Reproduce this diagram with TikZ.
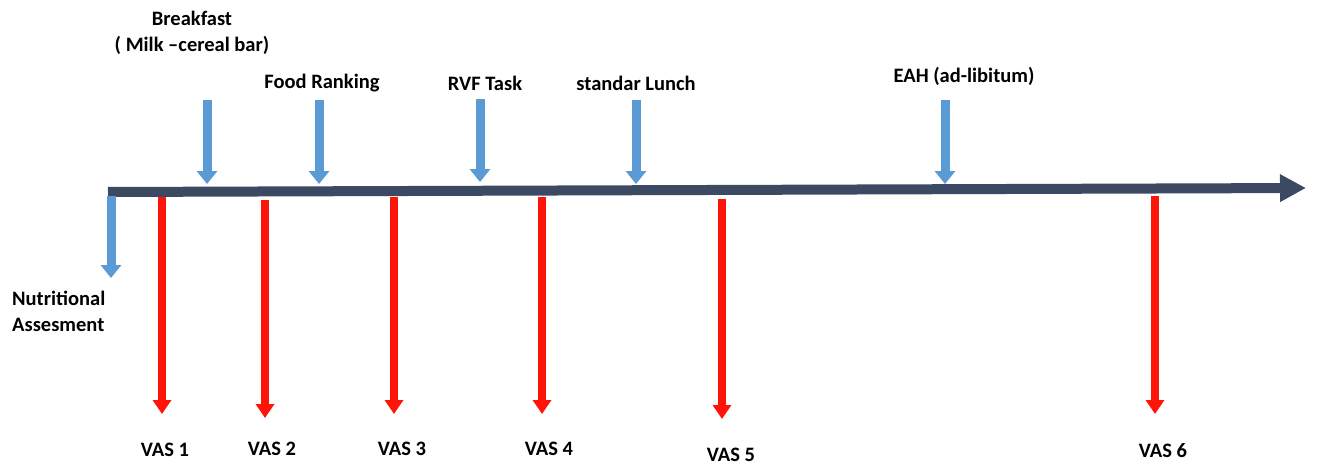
\documentclass[tikz,border=0pt]{standalone}
\usepackage{fontspec}
\setmainfont{Carlito}
\usetikzlibrary{arrows.meta, positioning}
\definecolor{timeline}{RGB}{59,73,99}
\definecolor{stepblue}{RGB}{91,155,213}
\definecolor{vasred}{RGB}{255,20,10}

\tikzset{
  lbl/.style={font=\fontsize{20.5}{26}\selectfont\bfseries, inner sep=0pt},
  bluearrow/.style={stepblue, line width=9pt, -{Triangle[width=20pt,length=13pt]}},
  redarrow/.style={vasred, line width=8pt, -{Triangle[width=18pt,length=14pt]}}
}

\begin{document}
\begin{tikzpicture}[x=1pt, y=-1pt]
    \useasboundingbox (0,0) rectangle (1319,468);

    % Timeline
    \coordinate (t0) at (108,192);
    \coordinate (t1) at (1306,188);
    \draw[timeline, line width=10pt, -{Triangle[width=26pt,length=26pt]}] (t0) -- (t1);

    % Events above the timeline
    \node[lbl, align=center] (breakfast) at (192,33) {Breakfast\\( Milk –cereal bar)};
    \node[lbl] (ranking) at (322,83) {Food Ranking};
    \node[lbl] (rvf) at (485,83) {RVF Task};
    \node[lbl] (lunch) at (636,83) {standar Lunch};
    \node[lbl] (eah) at (964,76) {EAH (ad-libitum)};

    \coordinate (b0) at (207,100);
    \coordinate (b1) at (207,184);
    \coordinate (f0) at (319,100);
    \coordinate (f1) at (319,184);
    \coordinate (r0) at (480,99);
    \coordinate (r1) at (480,182);
    \coordinate (l0) at (636,100);
    \coordinate (l1) at (636,184);
    \coordinate (e0) at (945,100);
    \coordinate (e1) at (945,184);

    \draw[bluearrow] (b0) -- (b1);
    \draw[bluearrow] (f0) -- (f1);
    \draw[bluearrow] (r0) -- (r1);
    \draw[bluearrow] (l0) -- (l1);
    \draw[bluearrow] (e0) -- (e1);

    % Nutritional assessment
    \node[lbl, align=left, anchor=west] (nutri) at (12,311) {Nutritional\\Assesment};
    \coordinate (n0) at (111,196);
    \coordinate (n1) at (111,278);
    \draw[bluearrow] (n0) -- (n1);

    % VAS measurements
    \node[lbl] (vas1) at (165,450) {VAS 1};
    \node[lbl] (vas2) at (272,449) {VAS 2};
    \node[lbl] (vas3) at (402,449) {VAS 3};
    \node[lbl] (vas4) at (549,449) {VAS 4};
    \node[lbl] (vas5) at (731,455) {VAS 5};
    \node[lbl] (vas6) at (1163,451) {VAS 6};

    \coordinate (v10) at (162,197);
    \coordinate (v11) at (162,414);
    \coordinate (v20) at (265,200);
    \coordinate (v21) at (265,418);
    \coordinate (v30) at (394,197);
    \coordinate (v31) at (394,414);
    \coordinate (v40) at (542,197);
    \coordinate (v41) at (542,414);
    \coordinate (v50) at (722,199);
    \coordinate (v51) at (722,419);
    \coordinate (v60) at (1155,196);
    \coordinate (v61) at (1155,414);

    \draw[redarrow] (v10) -- (v11);
    \draw[redarrow] (v20) -- (v21);
    \draw[redarrow] (v30) -- (v31);
    \draw[redarrow] (v40) -- (v41);
    \draw[redarrow] (v50) -- (v51);
    \draw[redarrow] (v60) -- (v61);
\end{tikzpicture}
\end{document}
